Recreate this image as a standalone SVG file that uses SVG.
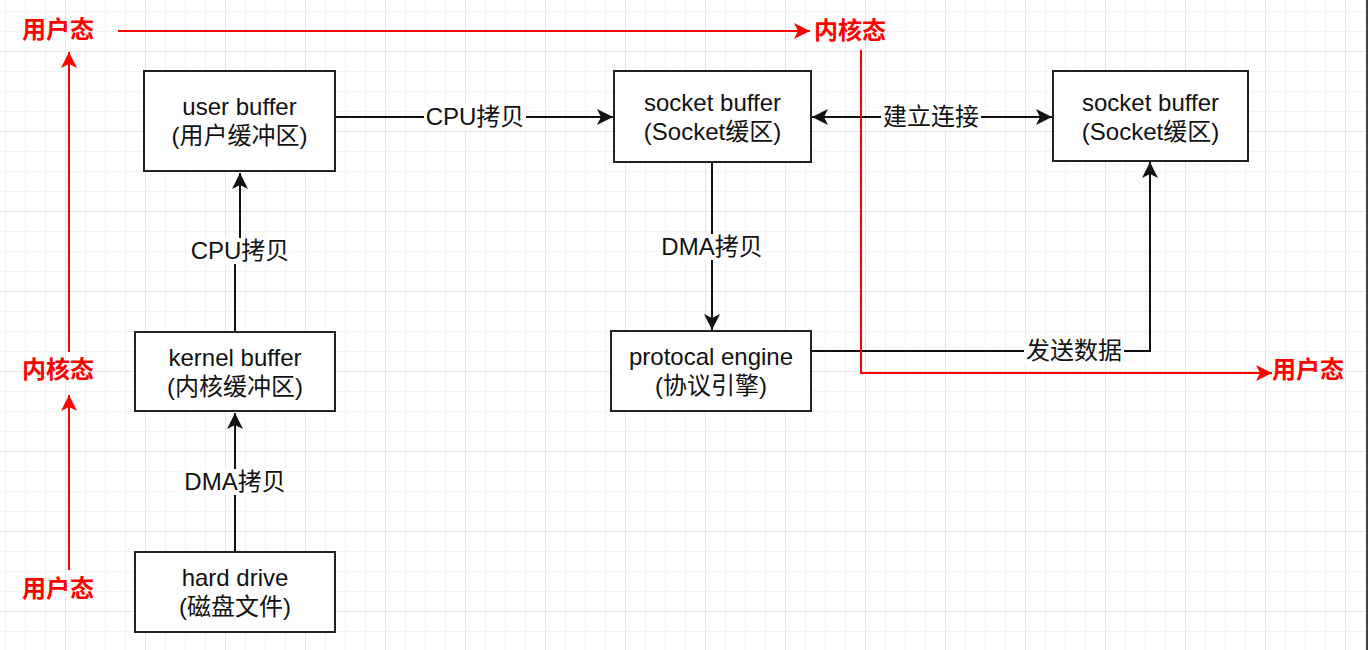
<svg xmlns="http://www.w3.org/2000/svg" width="1368" height="650" viewBox="0 0 1368 650">
  <style>
    .box { fill: #ffffff; stroke: #222222; stroke-width: 2; }
    .t { font-family: "Liberation Sans", Arial, "Noto Sans CJK SC", sans-serif; font-size: 24px; fill: #111111; text-anchor: middle; }
    .red { fill: #ff0000; font-weight: bold; }
    .edge { fill: none; stroke: #111111; stroke-width: 2; }
    .redge { fill: none; stroke: #ff0000; stroke-width: 2; }
    .lbg { fill: #ffffff; }
  </style>
  <defs>
    <pattern id="grid" patternUnits="userSpaceOnUse" x="65" y="51" width="80" height="80">
      <path d="M20.5,0 V80 M40.5,0 V80 M60.5,0 V80 M0,20.5 H80 M0,40.5 H80 M0,60.5 H80" stroke="#f3f3f3" stroke-width="1" fill="none"/>
      <path d="M0.5,0 V80 M0,0.5 H80" stroke="#e6e6e6" stroke-width="1" fill="none"/>
    </pattern>
    <marker id="arrow" markerUnits="userSpaceOnUse" viewBox="0 0 16 16" refX="16" refY="8" markerWidth="16" markerHeight="16" orient="auto-start-reverse">
      <path d="M0,0 L16,8 L0,16 L4,8 Z" fill="#111111"/>
    </marker>
    <marker id="rarrow" markerUnits="userSpaceOnUse" viewBox="0 0 16 16" refX="16" refY="8" markerWidth="16" markerHeight="16" orient="auto">
      <path d="M0,0 L16,8 L0,16 L4,8 Z" fill="#ff0000"/>
    </marker>
  </defs>

  <rect x="0" y="0" width="1368" height="650" fill="#ffffff"/>
  <rect x="0" y="0" width="1368" height="650" fill="url(#grid)"/>
  <rect x="1366" y="0" width="2" height="650" fill="#444444"/>

  <g id="connectors">
    <path class="edge" d="M235,552 V413" marker-end="url(#arrow)"/>
    <path class="edge" d="M235,332 V251 H240 V173" marker-end="url(#arrow)"/>
    <path class="edge" d="M335,117 H613" marker-end="url(#arrow)"/>
    <path class="edge" d="M812,117 H1052" marker-start="url(#arrow)" marker-end="url(#arrow)"/>
    <path class="edge" d="M712,162 V330" marker-end="url(#arrow)"/>
    <path class="edge" d="M811,351 H1150 V162" marker-end="url(#arrow)"/>

    <path class="redge" d="M118,31 H810" marker-end="url(#rarrow)"/>
    <path class="redge" d="M69,352 V52" marker-end="url(#rarrow)"/>
    <path class="redge" d="M69,570 V395" marker-end="url(#rarrow)"/>
    <path class="redge" d="M861,50 V373 H1272" marker-end="url(#rarrow)"/>

    <rect class="lbg" x="424" y="104" width="102" height="26"/>
    <text class="t" x="475" y="125">CPU拷贝</text>
    <rect class="lbg" x="189" y="238" width="102" height="26"/>
    <text class="t" x="240" y="259">CPU拷贝</text>
    <rect class="lbg" x="183" y="469" width="104" height="26"/>
    <text class="t" x="235" y="490">DMA拷贝</text>
    <rect class="lbg" x="660" y="234" width="104" height="26"/>
    <text class="t" x="712" y="255">DMA拷贝</text>
    <rect class="lbg" x="881" y="104" width="100" height="26"/>
    <text class="t" x="931" y="125">建立连接</text>
    <rect class="lbg" x="1024" y="338" width="100" height="26"/>
    <text class="t" x="1074" y="359">发送数据</text>
  </g>

  <g id="state-user-top">
    <text class="t red" x="58" y="38">用户态</text>
  </g>
  <g id="state-kernel-top">
    <text class="t red" x="850" y="39">内核态</text>
  </g>
  <g id="state-kernel-left">
    <text class="t red" x="58" y="378">内核态</text>
  </g>
  <g id="state-user-bottom">
    <text class="t red" x="58" y="597">用户态</text>
  </g>
  <g id="state-user-right">
    <text class="t red" x="1308" y="378">用户态</text>
  </g>

  <g id="user-buffer">
    <rect class="box" x="144" y="71" width="191" height="100"/>
    <text class="t" x="239.5" y="115">user buffer</text>
    <text class="t" x="239.5" y="144">(用户缓冲区)</text>
  </g>
  <g id="kernel-buffer">
    <rect class="box" x="135" y="332" width="200" height="79"/>
    <text class="t" x="235" y="365.5">kernel buffer</text>
    <text class="t" x="235" y="394.5">(内核缓冲区)</text>
  </g>
  <g id="hard-drive">
    <rect class="box" x="135" y="552" width="200" height="80"/>
    <text class="t" x="235" y="586">hard drive</text>
    <text class="t" x="235" y="615">(磁盘文件)</text>
  </g>
  <g id="socket-buffer-1">
    <rect class="box" x="614" y="71" width="197" height="91"/>
    <text class="t" x="712.5" y="111">socket buffer</text>
    <text class="t" x="712.5" y="140">(Socket缓区)</text>
  </g>
  <g id="socket-buffer-2">
    <rect class="box" x="1053" y="71" width="195" height="90"/>
    <text class="t" x="1150.5" y="111">socket buffer</text>
    <text class="t" x="1150.5" y="140">(Socket缓区)</text>
  </g>
  <g id="protocal-engine">
    <rect class="box" x="611" y="331" width="200" height="80"/>
    <text class="t" x="711" y="365">protocal engine</text>
    <text class="t" x="711" y="394">(协议引擎)</text>
  </g>
</svg>
